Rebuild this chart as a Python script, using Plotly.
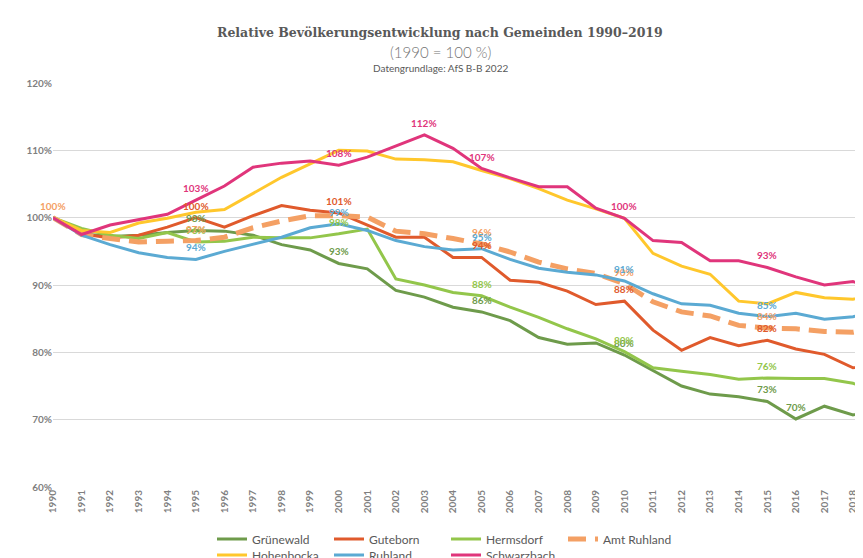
import plotly.graph_objects as go

years = list(range(1990, 2020))

gruenewald = [100, 97.6, 97.2, 97.4, 97.8, 98.1, 98.0, 97.4, 96.0, 95.2,
              93.2, 92.4, 89.2, 88.2, 86.7, 86.0, 84.7, 82.2, 81.2, 81.4,
              79.6, 77.3, 75.0, 73.8, 73.4, 72.7, 70.1, 72.0, 70.7, 71.8]
guteborn = [100, 97.6, 97.0, 97.4, 98.6, 100.0, 98.6, 100.3, 101.8, 101.1,
            100.7, 98.9, 97.1, 97.1, 94.1, 94.1, 90.7, 90.4, 89.1, 87.1,
            87.6, 83.3, 80.3, 82.2, 81.0, 81.8, 80.5, 79.7, 77.7, 78.3]
hermsdorf = [100, 98.4, 97.4, 96.9, 97.8, 96.4, 96.5, 97.1, 97.0, 97.0,
             97.6, 98.3, 90.9, 90.0, 88.9, 88.4, 86.7, 85.2, 83.5, 82.0,
             80.1, 77.7, 77.2, 76.7, 76.0, 76.2, 76.1, 76.1, 75.4, 74.0]
amt_ruhland = [100, 97.5, 96.9, 96.4, 96.5, 96.6, 97.1, 98.5, 99.5, 100.3,
               100.3, 100.1, 98.0, 97.6, 96.9, 96.1, 94.9, 93.4, 92.4, 91.7,
               90.2, 87.5, 86.0, 85.4, 84.0, 83.6, 83.5, 83.1, 83.0, 83.8]
hohenbocka = [100, 98.1, 97.8, 99.2, 99.9, 100.8, 101.2, 103.6, 106.0, 108.0,
              110.0, 109.9, 108.7, 108.6, 108.3, 107.0, 105.8, 104.3, 102.6, 101.3,
              99.9, 94.7, 92.8, 91.6, 87.6, 87.2, 88.9, 88.1, 87.9, 88.7]
ruhland = [100, 97.4, 96.0, 94.8, 94.1, 93.8, 95.0, 96.0, 97.1, 98.5,
           99.1, 98.1, 96.6, 95.7, 95.2, 95.4, 93.8, 92.5, 91.9, 91.5,
           90.6, 88.7, 87.2, 87.0, 85.8, 85.3, 85.8, 84.9, 85.3, 86.2]
schwarzbach = [100, 97.5, 98.9, 99.7, 100.5, 102.6, 104.7, 107.5, 108.1, 108.4,
               107.8, 109.0, 110.7, 112.3, 110.3, 107.3, 105.9, 104.6, 104.6, 101.4,
               99.9, 96.6, 96.3, 93.6, 93.6, 92.6, 91.2, 90.0, 90.5, 89.3]

series_names = ["Grünewald", "Guteborn", "Hermsdorf", "Amt Ruhland",
                "Hohenbocka", "Ruhland", "Schwarzbach"]
series_values = [gruenewald, guteborn, hermsdorf, amt_ruhland,
                 hohenbocka, ruhland, schwarzbach]
colors = ["#6E9B4B", "#E05A2C", "#93C64B", "#F4A064",
          "#FFC72C", "#5BAAD3", "#E0357B"]
# years that carry a value label, per series
label_years = [
    [1995, 2000, 2005, 2010, 2015, 2016],
    [1995, 2000, 2005, 2010, 2015],
    [1995, 2000, 2005, 2010, 2015],
    [1990, 1995, 2005, 2010, 2015],
    [],
    [1995, 2000, 2005, 2010, 2015],
    [1995, 2000, 2003, 2005, 2010, 2015],
]

tick_years = list(range(1990, 2019))

W, H = 863, 558
L, R, T, B = 45, 0, 75, 79
plot_h = H - T - B
plot_w = W - L - R


def py(pix):
    return (H - B - pix) / plot_h


def px(pix):
    return (pix - L) / plot_w


fig = go.Figure()
for i, (name, vals, col) in enumerate(zip(series_names, series_values, colors)):
    dash = "18px,9px" if name == "Amt Ruhland" else "solid"
    width = 5 if name == "Amt Ruhland" else 3
    fig.add_trace(go.Scatter(
        x=years, y=vals, name=name, mode="lines",
        line=dict(color=col, width=width, dash=dash),
        hoverinfo="skip",
        legend="legend" if i < 4 else "legend2",
    ))

annotations = []
for name, vals, col, ly in zip(series_names, series_values, colors, label_years):
    for yr in ly:
        v = vals[years.index(yr)]
        annotations.append(dict(
            x=yr, y=v, xref="x", yref="y", text=f"{round(v)}%",
            showarrow=False, yshift=12,
            font=dict(family="Lato", size=10, color=col, weight="bold"),
        ))

annotations += [
    dict(x=px(432), y=py(24), xref="paper", yref="paper", xanchor="center",
         yanchor="middle", showarrow=False,
         text="<b>Relative Bevölkerungsentwicklung nach Gemeinden 1990–2019</b>",
         font=dict(family="DejaVu Serif", size=12.5, color="#595959")),
    dict(x=px(432), y=py(44), xref="paper", yref="paper", xanchor="center",
         yanchor="middle", showarrow=False, text="(1990 = 100 %)",
         font=dict(family="Lato", size=15, color="#747474", weight=300)),
    dict(x=px(432), y=py(60), xref="paper", yref="paper", xanchor="center",
         yanchor="middle", showarrow=False, text="Datengrundlage: AfS B-B 2022",
         font=dict(family="Lato", size=10, color="#595959")),
]

leg_common = dict(orientation="h", xanchor="left", yanchor="middle",
                  entrywidth=72, entrywidthmode="pixels",
                  font=dict(family="Lato", size=12, color="#595959"),
                  bgcolor="rgba(0,0,0,0)", itemwidth=30)

fig.update_layout(
    width=W, height=H,
    margin=dict(l=L, r=R, t=T, b=B, autoexpand=False),
    paper_bgcolor="white", plot_bgcolor="white",
    showlegend=True,
    legend=dict(x=px(204), y=py(531), **leg_common),
    legend2=dict(x=px(204), y=py(547), **leg_common),
    annotations=annotations,
    xaxis=dict(range=[1990, 1990 + plot_w / (800 / 28)],
               tickvals=tick_years, ticktext=[str(y) for y in tick_years],
               tickangle=-90, showgrid=False, zeroline=False,
               showline=False, ticks="",
               tickfont=dict(family="Lato", size=10, color="#7f7f7f", weight="bold")),
    yaxis=dict(range=[60, 120], dtick=10, ticksuffix="%",
               showgrid=True, gridcolor="#d9d9d9", gridwidth=1,
               zeroline=False, showline=False, ticks="",
               tickfont=dict(family="Lato", size=10, color="#7f7f7f", weight="bold")),
)

fig.write_html("out.html")
